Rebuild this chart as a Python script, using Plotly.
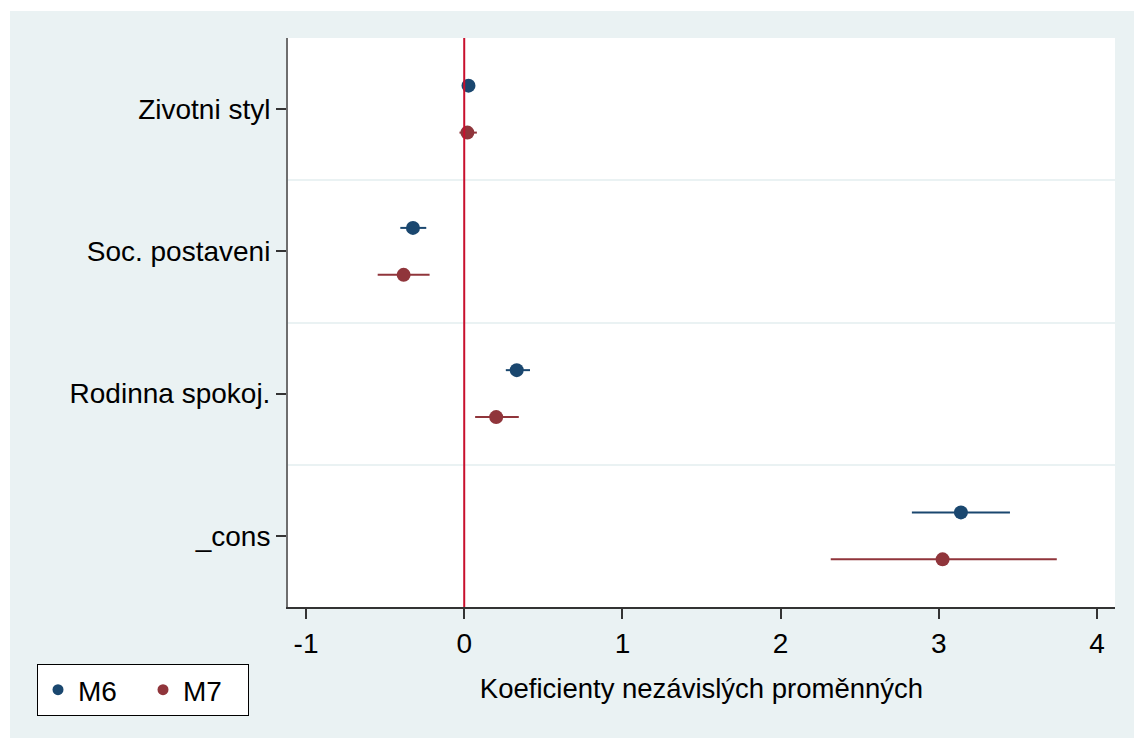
import plotly.graph_objects as go

# ---- data ----
categories = ["Zivotni styl", "Soc. postaveni", "Rodinna spokoj.", "_cons"]
m6_coef = [0.027, -0.324, 0.332, 3.14]
m6_low = [0.012, -0.404, 0.263, 2.83]
m6_high = [0.042, -0.240, 0.416, 3.45]
m7_coef = [0.020, -0.383, 0.202, 3.024]
m7_low = [-0.030, -0.547, 0.069, 2.317]
m7_high = [0.080, -0.219, 0.345, 3.746]
x_ticks = [-1, 0, 1, 2, 3, 4]
series_names = ["M6", "M7"]

NAVY = "#1a476f"
MAROON = "#90353b"
BG = "#eaf2f3"
FONT = "Liberation Sans, Arial, sans-serif"

pos = list(range(1, len(categories) + 1))
offset = 0.165

fig = go.Figure()

for name, coef, lo, hi, col, sgn in [
    (series_names[0], m6_coef, m6_low, m6_high, NAVY, -1),
    (series_names[1], m7_coef, m7_low, m7_high, MAROON, 1),
]:
    fig.add_trace(go.Scatter(
        x=coef,
        y=[p + sgn * offset for p in pos],
        mode="markers",
        marker=dict(color=col, size=14, symbol="circle"),
        error_x=dict(type="data", symmetric=False,
                     array=[h - c for h, c in zip(hi, coef)],
                     arrayminus=[c - l for c, l in zip(coef, lo)],
                     color=col, thickness=2, width=0),
        showlegend=False,
        name=name,
    ))
    # legend-only entry with smaller marker
    fig.add_trace(go.Scatter(
        x=[None], y=[None], mode="markers",
        marker=dict(color=col, size=11),
        name=name, showlegend=True,
    ))

shapes = [
    # outer graph region
    dict(type="rect", xref="paper", yref="paper",
         x0=(10 - 288) / 827, x1=(1134 - 288) / 827,
         y0=(607 - 738) / 569, y1=(607 - 11) / 569,
         fillcolor=BG, line=dict(width=0), layer="below"),
    # plot region
    dict(type="rect", xref="paper", yref="paper",
         x0=0, x1=1, y0=0, y1=1,
         fillcolor="white", line=dict(width=0), layer="below"),
    # zero reference line
    dict(type="line", xref="x", yref="paper", x0=0, x1=0, y0=0, y1=1,
         line=dict(color="#c8102e", width=2), layer="above"),
]

fig.update_layout(
    width=1134, height=738,
    margin=dict(l=288, r=19, t=38, b=131),
    paper_bgcolor="white",
    plot_bgcolor="white",
    shapes=shapes,
    font=dict(family=FONT, color="black", size=28),
    showlegend=True,
    legend=dict(
        orientation="h",
        x=(37 - 288) / 827, y=(607 - 664) / 569,
        xanchor="left", yanchor="top",
        bgcolor="white", bordercolor="black", borderwidth=1,
        font=dict(size=28, family=FONT),
        itemwidth=30,
        entrywidth=60,
    ),
    xaxis=dict(
        range=[-1.114, 4.114],
        tickvals=x_ticks,
        ticktext=[str(t) for t in x_ticks],
        showgrid=False, zeroline=False,
        showline=True, linecolor="#333333", linewidth=2,
        ticks="outside", ticklen=10, tickcolor="#333333", tickwidth=1.5,
        tickfont=dict(size=28),
        title=dict(text="Koeficienty nezávislých proměnných",
                   font=dict(size=27.5), standoff=21),
    ),
    yaxis=dict(
        range=[4.5, 0.5],
        tickvals=pos,
        ticktext=categories,
        showgrid=False, zeroline=False,
        showline=True, linecolor="#6e6e6e", linewidth=2,
        ticks="outside", ticklen=10, tickcolor="#333333", tickwidth=1.5,
        tickfont=dict(size=28),
        minor=dict(tickvals=[p + 0.5 for p in pos[:-1]], showgrid=True,
                   gridcolor=BG, gridwidth=2, ticks=""),
    ),
)

fig.write_html("out.html")
